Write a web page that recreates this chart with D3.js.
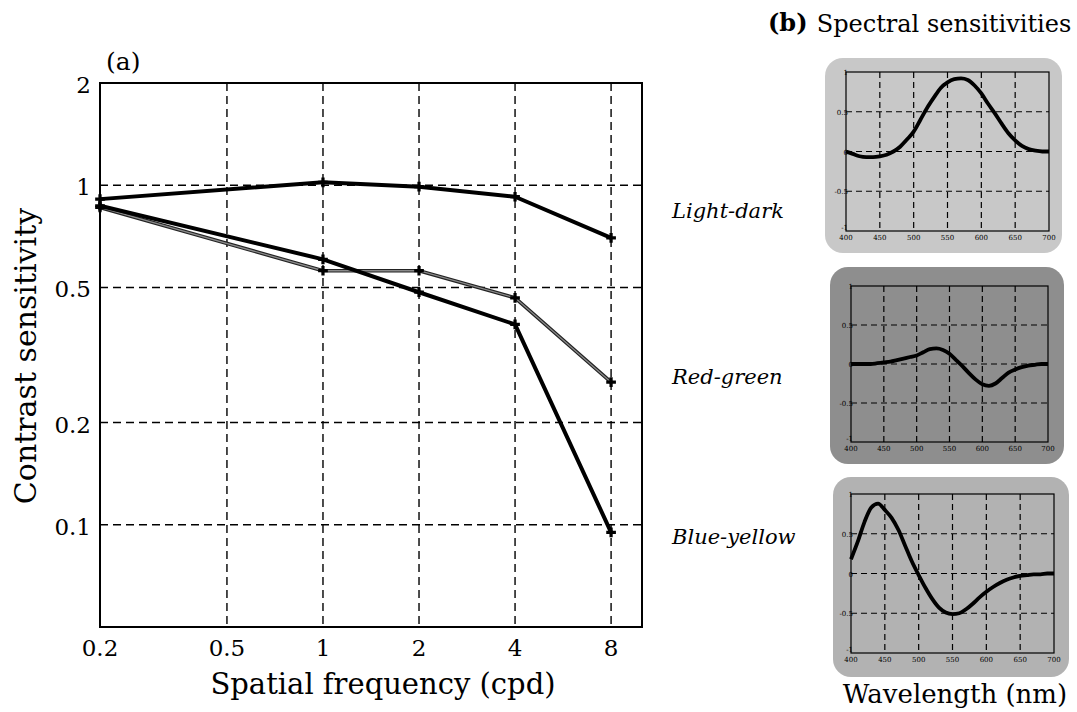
<!DOCTYPE html>
<html>
<head>
<meta charset="utf-8">
<script src="https://cdn.jsdelivr.net/npm/d3@7"></script>
<style>
  html, body { margin: 0; padding: 0; background: #ffffff; }
  svg { display: block; }
  text { font-family: "DejaVu Serif", "Liberation Serif", serif; fill: #000; }
</style>
</head>
<body>
<svg id="chart" width="1077" height="712"></svg>
<script>
// ---------- Data: panel (a) contrast sensitivity ----------
const freqs = [0.2, 1, 2, 4, 8];
const lightDarkCS = [0.91, 1.02, 0.99, 0.925, 0.70];
const redGreenCS = [0.86, 0.56, 0.56, 0.466, 0.263];
const blueYellowCS = [0.87, 0.605, 0.484, 0.389, 0.095];
const xTickVals = [0.2, 0.5, 1, 2, 4, 8];
const xTickLabels = ["0.2", "0.5", "1", "2", "4", "8"];
const yTickVals = [0.1, 0.2, 0.5, 1, 2];
const yTickLabels = ["0.1", "0.2", "0.5", "1", "2"];

// ---------- Data: panel (b) spectral sensitivities ----------
const wavelengths = [400, 410, 420, 430, 440, 450, 460, 470, 480, 490, 500, 510, 520, 530, 540, 550,
  560, 570, 580, 590, 600, 610, 620, 630, 640, 650, 660, 670, 680, 690, 700];
const lightDarkSpec = [0.00, -0.03, -0.06, -0.07, -0.07, -0.06, -0.04, 0.00, 0.06, 0.15, 0.25, 0.40,
  0.55, 0.68, 0.80, 0.87, 0.91, 0.92, 0.90, 0.83, 0.73, 0.60, 0.48, 0.35, 0.23, 0.14, 0.07, 0.03, 0.01, 0.00, 0.00];
const redGreenSpec = [0.00, 0.00, 0.00, 0.00, 0.01, 0.02, 0.03, 0.05, 0.07, 0.09, 0.11, 0.15,
  0.19, 0.20, 0.18, 0.13, 0.05, -0.03, -0.12, -0.20, -0.26, -0.28, -0.25, -0.18, -0.11, -0.07, -0.04, -0.02, -0.01, 0.00, 0.00];
const blueYellowSpec = [0.18, 0.40, 0.65, 0.83, 0.88, 0.80, 0.70, 0.55, 0.35, 0.15, -0.02, -0.18,
  -0.32, -0.43, -0.49, -0.51, -0.50, -0.45, -0.38, -0.30, -0.23, -0.17, -0.12, -0.08, -0.05, -0.03, -0.02, -0.01, -0.01, 0.00, 0.00];
const specXTicks = [400, 450, 500, 550, 600, 650, 700];
const specYTicks = [1, 0.5, 0, -0.5, -1];
const specYTickLabels = ["1", "0.5", "0", "-0.5", "-1"];
const channelNames = ["Light-dark", "Red-green", "Blue-yellow"];

const svg = d3.select("#chart");

// ================= Panel (a) =================
const x = d3.scaleLog().domain([0.2, 10]).range([100, 642]);
const y = d3.scaleLog().domain([0.05, 2]).range([627, 83]);

const gA = svg.append("g");

// grid
gA.append("g").selectAll("line").data(xTickVals.slice(1)).join("line")
  .attr("x1", d => x(d)).attr("x2", d => x(d))
  .attr("y1", y.range()[1]).attr("y2", y.range()[0])
  .attr("stroke", "#000").attr("stroke-width", 1.4).attr("stroke-dasharray", "8,5");
gA.append("g").selectAll("line").data(yTickVals.slice(0, -1)).join("line")
  .attr("y1", d => y(d)).attr("y2", d => y(d))
  .attr("x1", x.range()[0]).attr("x2", x.range()[1])
  .attr("stroke", "#000").attr("stroke-width", 1.4).attr("stroke-dasharray", "8,5");

// frame
gA.append("rect")
  .attr("x", x.range()[0]).attr("y", y.range()[1])
  .attr("width", x.range()[1] - x.range()[0]).attr("height", y.range()[0] - y.range()[1])
  .attr("fill", "none").attr("stroke", "#000").attr("stroke-width", 2);

// tick labels
gA.append("g").selectAll("text").data(xTickVals).join("text")
  .attr("x", d => x(d)).attr("y", 656)
  .attr("text-anchor", "middle").attr("font-size", 23)
  .text((d, i) => xTickLabels[i]);
gA.append("g").selectAll("text").data(yTickVals).join("text")
  .attr("x", 91).attr("y", d => y(d) + 10)
  .attr("text-anchor", "end").attr("font-size", 23)
  .text((d, i) => yTickLabels[i]);

// axis titles
gA.append("text")
  .attr("transform", "translate(36,356) rotate(-90)")
  .attr("text-anchor", "middle").attr("font-size", 30)
  .text("Contrast sensitivity");
gA.append("text")
  .attr("x", 383).attr("y", 694)
  .attr("text-anchor", "middle").attr("font-size", 29)
  .text("Spatial frequency (cpd)");
gA.append("text")
  .attr("x", 106).attr("y", 70).attr("font-size", 25)
  .text("(a)");

// lines
const lineA = d3.line().x(d => x(d[0])).y(d => y(d[1]));
const seriesA = [
  { vals: lightDarkCS, color: "#000", width: 4, inner: null },
  { vals: redGreenCS, color: "#222", width: 3.6, inner: "#8a8a8a" },
  { vals: blueYellowCS, color: "#000", width: 4, inner: null }
];
seriesA.forEach(s => {
  const pts = freqs.map((f, i) => [f, s.vals[i]]);
  gA.append("path").datum(pts).attr("d", lineA)
    .attr("fill", "none").attr("stroke", s.color).attr("stroke-width", s.width)
    .attr("stroke-linejoin", "round");
  if (s.inner) {
    gA.append("path").datum(pts).attr("d", lineA)
      .attr("fill", "none").attr("stroke", s.inner).attr("stroke-width", 1.3);
  }
  gA.append("g").selectAll("path").data(pts).join("path")
    .attr("transform", d => `translate(${x(d[0])},${y(d[1])})`)
    .attr("d", d3.symbol().type(d3.symbolCross).size(52))
    .attr("fill", "#000");
});

// ================= Panel (b) =================
svg.append("text").attr("x", 768).attr("y", 31)
  .attr("font-size", 24).attr("font-weight", "bold").text("(b)");
svg.append("text").attr("x", 944).attr("y", 32)
  .attr("text-anchor", "middle").attr("font-size", 24).text("Spectral sensitivities");
svg.append("text").attr("x", 955).attr("y", 703)
  .attr("text-anchor", "middle").attr("font-size", 26).text("Wavelength (nm)");

const panels = [
  { vals: lightDarkSpec, bg: [825, 58, 1062, 253], fr: [846, 72, 1049, 231], fill: "#c8c8c8", labelY: 218 },
  { vals: redGreenSpec, bg: [830, 267, 1064, 464], fr: [851, 286, 1048, 442], fill: "#8e8e8e", labelY: 384 },
  { vals: blueYellowSpec, bg: [833, 477, 1069, 677], fr: [851, 494, 1054, 653], fill: "#b2b2b2", labelY: 544 }
];

panels.forEach((p, k) => {
  const g = svg.append("g");
  const sx = d3.scaleLinear().domain([400, 700]).range([p.fr[0], p.fr[2]]);
  const sy = d3.scaleLinear().domain([-1, 1]).range([p.fr[3], p.fr[1]]);

  g.append("rect")
    .attr("x", p.bg[0]).attr("y", p.bg[1])
    .attr("width", p.bg[2] - p.bg[0]).attr("height", p.bg[3] - p.bg[1])
    .attr("rx", 18).attr("ry", 18).attr("fill", p.fill);

  // grid
  g.append("g").selectAll("line").data(specXTicks.slice(1, -1)).join("line")
    .attr("x1", d => sx(d)).attr("x2", d => sx(d))
    .attr("y1", sy(1)).attr("y2", sy(-1))
    .attr("stroke", "#000").attr("stroke-width", 1.2).attr("stroke-dasharray", "6,4");
  g.append("g").selectAll("line").data(specYTicks.slice(1, -1)).join("line")
    .attr("y1", d => sy(d)).attr("y2", d => sy(d))
    .attr("x1", sx(400)).attr("x2", sx(700))
    .attr("stroke", "#000").attr("stroke-width", 1.2).attr("stroke-dasharray", "6,4");

  g.append("rect")
    .attr("x", p.fr[0]).attr("y", p.fr[1])
    .attr("width", p.fr[2] - p.fr[0]).attr("height", p.fr[3] - p.fr[1])
    .attr("fill", "none").attr("stroke", "#000").attr("stroke-width", 1.2);

  // tiny tick labels
  g.append("g").selectAll("text").data(specXTicks).join("text")
    .attr("x", d => sx(d)).attr("y", p.fr[3] + 9)
    .attr("text-anchor", "middle").attr("font-size", 7).attr("fill", "#111")
    .text(d => d);
  g.append("g").selectAll("text").data(specYTicks).join("text")
    .attr("x", p.fr[0] + 2).attr("y", d => d === -1 ? sy(d) - 1 : sy(d) + 3)
    .attr("text-anchor", "end").attr("font-size", 7).attr("fill", "#111")
    .text((d, i) => specYTickLabels[i]);

  // curve
  const pts = wavelengths.map((w, i) => [w, p.vals[i]]);
  g.append("path").datum(pts)
    .attr("d", d3.line().x(d => sx(d[0])).y(d => sy(d[1])).curve(d3.curveMonotoneX))
    .attr("fill", "none").attr("stroke", "#000").attr("stroke-width", 3.8)
    .attr("stroke-linejoin", "round");

  // channel label
  svg.append("text").attr("x", 672).attr("y", p.labelY)
    .attr("font-size", 21).attr("font-style", "italic")
    .text(channelNames[k]);
});
</script>
</body>
</html>
